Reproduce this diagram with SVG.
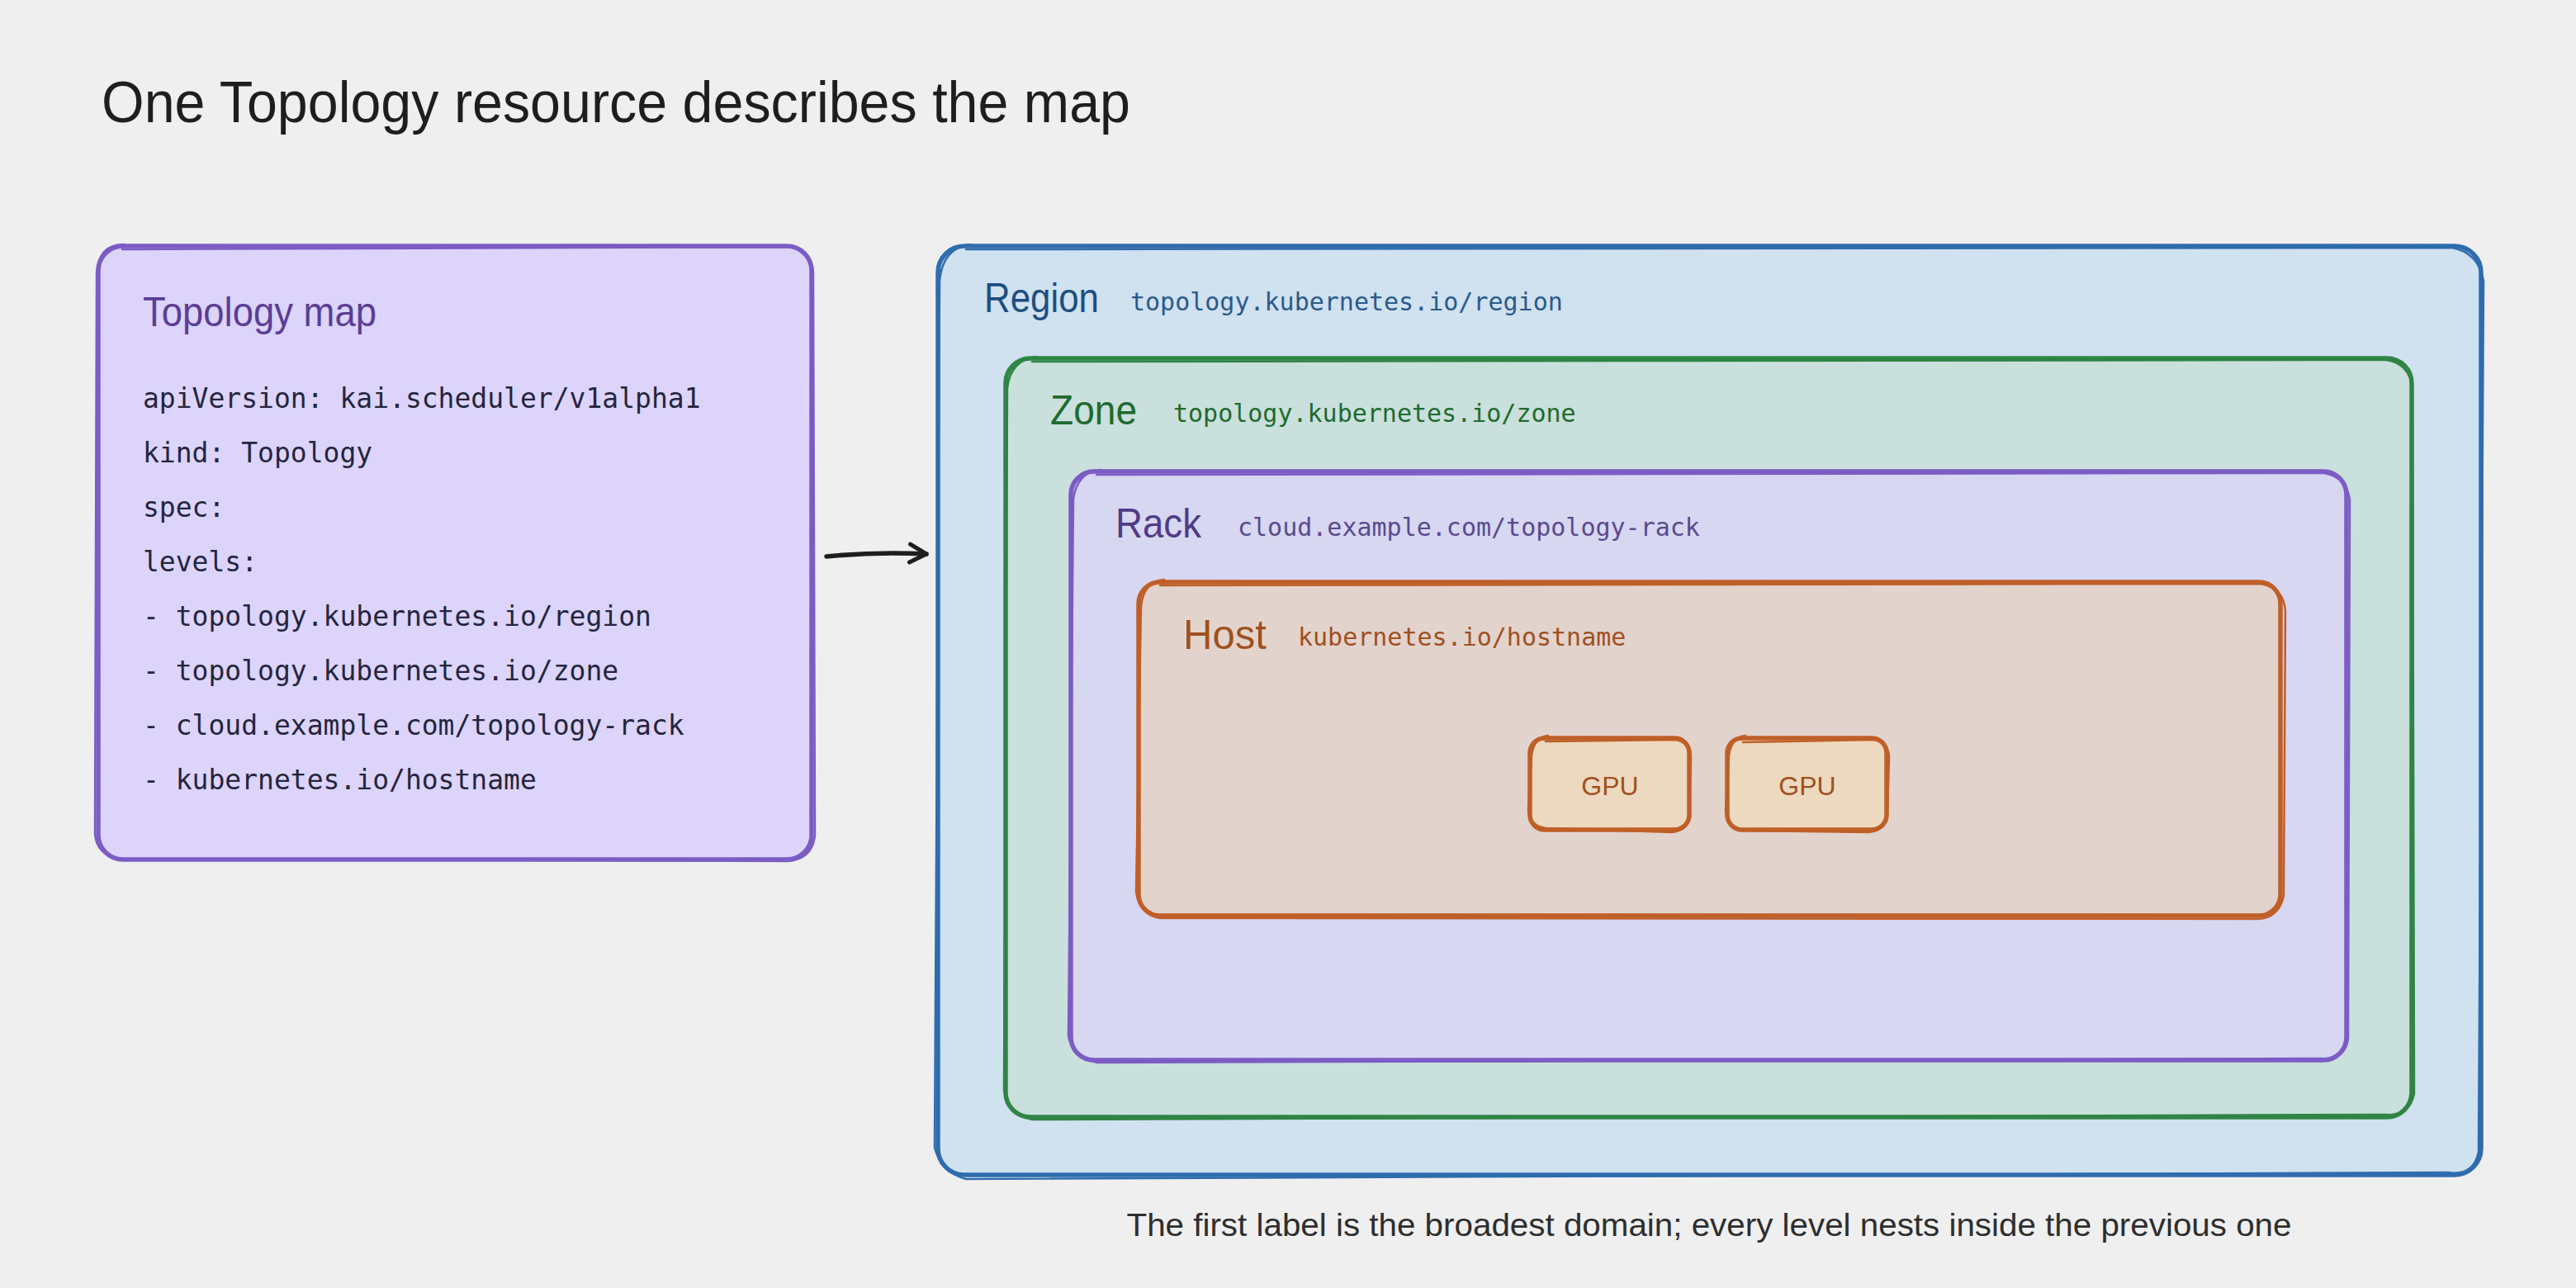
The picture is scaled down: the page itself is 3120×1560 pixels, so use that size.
<svg xmlns="http://www.w3.org/2000/svg" width="3120" height="1560" viewBox="0 0 3120 1560">
<defs>
<style>
.hand{font-family:"Liberation Sans","Noto Sans",sans-serif;}
.mono{font-family:"DejaVu Sans Mono","Liberation Mono",monospace;font-size:30px;}
.code{font-family:"DejaVu Sans Mono","Liberation Mono",monospace;font-size:33px;fill:#25253d;}
.s{fill:none;stroke-width:5.5;stroke-linecap:round;stroke-linejoin:round;}
.s2{fill:none;stroke-width:2.5;stroke-linecap:round;stroke-linejoin:round;}
.purple{stroke:#7c5cc4;}
.blue{stroke:#2f6cae;}
.green{stroke:#2f8544;}
.orange{stroke:#bf5f28;}
</style>
<marker id="arr" viewBox="0 0 30 30" refX="26" refY="15" markerWidth="30" markerHeight="30" markerUnits="userSpaceOnUse" orient="auto">
<path d="M6 4 L26 15 L6 26" fill="none" stroke="#1e1e1e" stroke-width="5" stroke-linecap="round" stroke-linejoin="round"/>
</marker>
</defs>
<rect x="0" y="0" width="3120" height="1560" fill="#efefef"/>
<text class="hand" x="123" y="148" font-size="70" fill="#1e1e1e" textLength="1246" lengthAdjust="spacingAndGlyphs">One Topology resource describes the map</text>

<g id="topology-map">
<rect x="119" y="298" width="864" height="743" rx="30" fill="#dcd4fb"/>
<rect class="s purple" x="119" y="298" width="864" height="743" rx="30"/>
<path class="s2 purple" d="M148 302 L956 299 Q983 302 985 330 L987 1012 Q984 1040 955 1043 L146 1040 Q117 1036 115 1010 L117 330 Q120 296 150 296"/>
<text class="hand" x="173" y="395" font-size="50" fill="#5b3e96" textLength="283" lengthAdjust="spacingAndGlyphs">Topology map</text>
<text class="code" x="173" y="494">apiVersion: kai.scheduler/v1alpha1</text>
<text class="code" x="173" y="560">kind: Topology</text>
<text class="code" x="173" y="626">spec:</text>
<text class="code" x="173" y="692">levels:</text>
<text class="code" x="173" y="758">- topology.kubernetes.io/region</text>
<text class="code" x="173" y="824">- topology.kubernetes.io/zone</text>
<text class="code" x="173" y="890">- cloud.example.com/topology-rack</text>
<text class="code" x="173" y="956">- kubernetes.io/hostname</text>
</g>

<g id="region">
<rect x="1136" y="298" width="1869" height="1125" rx="32" fill="#d0e1f0"/>
<rect class="s blue" x="1136" y="298" width="1869" height="1125" rx="32"/>
<path class="s2 blue" d="M1170 302 L2970 300 Q3002 306 3008 340 L3002 1395 Q2996 1425 2965 1420 L1170 1428 Q1140 1420 1132 1390 L1138 340 Q1142 300 1175 296"/>
<text class="hand" x="1192" y="378" font-size="50" fill="#1d4e80" textLength="139" lengthAdjust="spacingAndGlyphs">Region</text>
<text class="mono" x="1369" y="376" fill="#2a5a8c">topology.kubernetes.io/region</text>
</g>

<g id="zone">
<rect x="1218" y="434" width="1703" height="919" rx="30" fill="#c9e0dc"/>
<rect class="s green" x="1218" y="434" width="1703" height="919" rx="30"/>
<path class="s2 green" d="M1250 438 L2890 436 Q2918 440 2922 470 L2924 1325 Q2918 1352 2890 1350 L1250 1356 Q1222 1350 1216 1320 L1220 470 Q1224 436 1255 432"/>
<text class="hand" x="1272" y="514" font-size="50" fill="#1f6a2f" textLength="105" lengthAdjust="spacingAndGlyphs">Zone</text>
<text class="mono" x="1421" y="511" fill="#1f6a2f">topology.kubernetes.io/zone</text>
</g>

<g id="rack">
<rect x="1297" y="571" width="1545" height="713" rx="28" fill="#d7d7f2"/>
<rect class="s purple" x="1297" y="571" width="1545" height="713" rx="28"/>
<path class="s2 purple" d="M1328 575 L2815 573 Q2842 578 2846 605 L2844 1258 Q2840 1284 2812 1282 L1330 1287 Q1300 1282 1294 1255 L1300 605 Q1304 572 1333 569"/>
<text class="hand" x="1351" y="651" font-size="50" fill="#4f3b86" textLength="104" lengthAdjust="spacingAndGlyphs">Rack</text>
<text class="mono" x="1499" y="649" fill="#5a4a8e">cloud.example.com/topology-rack</text>
</g>

<g id="host">
<rect x="1379" y="705" width="1383" height="404" rx="26" fill="#e3d3cd"/>
<rect class="s orange" x="1379" y="705" width="1383" height="404" rx="26"/>
<path class="s2 orange" d="M1405 709 L2738 707 Q2766 712 2768 740 L2766 1085 Q2760 1112 2735 1113 L1405 1112 Q1380 1108 1376 1080 L1382 735 Q1385 704 1410 702"/>
<text class="hand" x="1433" y="786" font-size="50" fill="#a0501e" textLength="101" lengthAdjust="spacingAndGlyphs">Host</text>
<text class="mono" x="1572" y="782" fill="#a0501e">kubernetes.io/hostname</text>
</g>

<g id="gpu-1">
<rect x="1853" y="894" width="193" height="111" rx="18" fill="#edd9bf"/>
<rect class="s orange" x="1853" y="894" width="193" height="111" rx="18"/>
<path class="s2 orange" d="M1872 898 L2030 896 Q2048 900 2048 918 L2046 985 Q2044 1006 2025 1008 L1872 1003 Q1852 1000 1851 980 L1855 915 Q1858 893 1875 891"/>
<text class="hand" x="1950" y="963" font-size="32" fill="#a0501e" text-anchor="middle">GPU</text>
</g>

<g id="gpu-2">
<rect x="2092" y="894" width="193" height="111" rx="18" fill="#edd9bf"/>
<rect class="s orange" x="2092" y="894" width="193" height="111" rx="18"/>
<path class="s2 orange" d="M2111 899 L2270 896 Q2288 900 2288 918 L2286 985 Q2284 1006 2264 1008 L2111 1006 Q2092 1002 2090 982 L2094 915 Q2097 893 2114 891"/>
<text class="hand" x="2189" y="963" font-size="32" fill="#a0501e" text-anchor="middle">GPU</text>
</g>

<g id="connectors">
<path d="M1001 674 Q1060 668 1122 671" fill="none" stroke="#1e1e1e" stroke-width="5.5" stroke-linecap="round" marker-end="url(#arr)"/>
</g>

<text class="hand" x="2070" y="1497" font-size="38" fill="#2e2e2e" text-anchor="middle" textLength="1411" lengthAdjust="spacingAndGlyphs">The first label is the broadest domain; every level nests inside the previous one</text>
</svg>
